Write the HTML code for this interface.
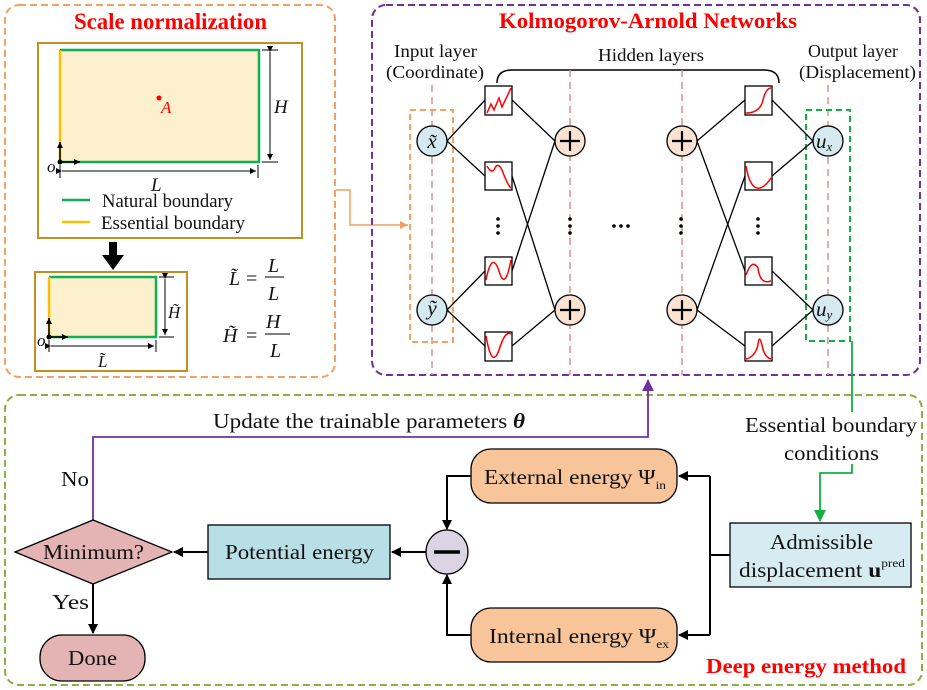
<!DOCTYPE html>
<html><head><meta charset="utf-8"><style>
html,body{margin:0;padding:0;background:#fff}
svg{display:block}
text{font-family:"Liberation Serif",serif;fill:#111}
.it{font-style:italic}
</style></head><body>
<svg width="927" height="690" viewBox="0 0 927 690" xmlns="http://www.w3.org/2000/svg">
<defs>
<marker id="ab" markerWidth="10" markerHeight="10" refX="9" refY="5" orient="auto" markerUnits="userSpaceOnUse"><path d="M0,0 L10,5 L0,10 z" fill="#000"/></marker>
<marker id="as" markerWidth="6" markerHeight="6" refX="6" refY="3" orient="auto" markerUnits="userSpaceOnUse"><path d="M0,0 L6,3 L0,6 z" fill="#000"/></marker>
<marker id="ao" markerWidth="8" markerHeight="8" refX="8" refY="4" orient="auto" markerUnits="userSpaceOnUse"><path d="M0,0 L8,4 L0,8 z" fill="#f0a060"/></marker>
<marker id="ag" markerWidth="12" markerHeight="12" refX="11" refY="6" orient="auto" markerUnits="userSpaceOnUse"><path d="M0,0 L12,6 L0,12 z" fill="#10b040"/></marker>
<marker id="ap" markerWidth="12" markerHeight="12" refX="11" refY="6" orient="auto" markerUnits="userSpaceOnUse"><path d="M0,0 L12,6 L0,12 z" fill="#7030a0"/></marker>
</defs>

<!-- Scale normalization panel -->
<rect x="5" y="5" width="330" height="372" rx="14" fill="none" stroke="#f4a262" stroke-width="2" stroke-dasharray="7,4"/>
<text x="74" y="29" font-size="23" font-weight="bold" textLength="193" lengthAdjust="spacingAndGlyphs" style="fill:#f00">Scale normalization</text>
<rect x="38" y="43" width="264" height="195" fill="#fff" stroke="#c09020" stroke-width="2"/>
<rect x="60" y="50" width="199" height="112" fill="#fdf0cc"/>
<polyline points="60,50 259,50 259,162 60,162" fill="none" stroke="#10b050" stroke-width="2.5"/>
<line x1="60" y1="50" x2="60" y2="162" stroke="#f8c000" stroke-width="2.5"/>
<line x1="60" y1="162" x2="60" y2="142" stroke="#000" stroke-width="1.5" marker-end="url(#as)"/>
<line x1="60" y1="162" x2="80" y2="162" stroke="#000" stroke-width="1.5" marker-end="url(#as)"/>
<circle cx="60" cy="162" r="2.5" fill="#000"/>
<text x="47" y="172" font-size="17" class="it">o</text>
<line x1="262" y1="50" x2="278" y2="50" stroke="#000"/><line x1="262" y1="162" x2="278" y2="162" stroke="#000"/>
<line x1="270" y1="52" x2="270" y2="160" stroke="#000" marker-start="url(#as)" marker-end="url(#as)"/>
<text x="274" y="113" font-size="19" class="it">H</text>
<line x1="60" y1="165" x2="60" y2="178" stroke="#000"/><line x1="258" y1="165" x2="258" y2="178" stroke="#000"/>
<line x1="62" y1="171" x2="256" y2="171" stroke="#000" marker-start="url(#as)" marker-end="url(#as)"/>
<text x="151" y="191" font-size="19" class="it">L</text>
<circle cx="159" cy="98" r="2.5" fill="#f00"/>
<text x="161" y="113" font-size="17" class="it" style="fill:#f00">A</text>
<line x1="62" y1="200" x2="90" y2="200" stroke="#10b050" stroke-width="2.5"/>
<text x="102" y="207" font-size="19" textLength="131" lengthAdjust="spacingAndGlyphs">Natural boundary</text>
<line x1="62" y1="222" x2="90" y2="222" stroke="#f8c000" stroke-width="2.5"/>
<text x="101" y="229" font-size="19" textLength="144" lengthAdjust="spacingAndGlyphs">Essential boundary</text>
<rect x="109" y="242" width="8" height="14" fill="#000"/>
<path d="M102,255 L124,255 L113,270 z" fill="#000"/>
<rect x="35" y="272" width="152" height="99" fill="#fff" stroke="#c09020" stroke-width="2"/>
<rect x="49" y="277" width="107" height="60" fill="#fdf0cc"/>
<polyline points="49,277 156,277 156,337 49,337" fill="none" stroke="#10b050" stroke-width="2.5"/>
<line x1="49" y1="277" x2="49" y2="337" stroke="#f8c000" stroke-width="2.5"/>
<line x1="49" y1="337" x2="49" y2="318" stroke="#000" stroke-width="1.5" marker-end="url(#as)"/>
<line x1="49" y1="337" x2="68" y2="337" stroke="#000" stroke-width="1.5" marker-end="url(#as)"/>
<circle cx="49" cy="337" r="2.5" fill="#000"/>
<text x="37" y="346" font-size="17" class="it">o</text>
<line x1="159" y1="277" x2="174" y2="277" stroke="#000"/><line x1="159" y1="337" x2="174" y2="337" stroke="#000"/>
<line x1="165" y1="279" x2="165" y2="335" stroke="#000" marker-start="url(#as)" marker-end="url(#as)"/>
<text x="168" y="318" font-size="17" class="it">H̃</text>
<line x1="49" y1="340" x2="49" y2="352" stroke="#000"/><line x1="156" y1="340" x2="156" y2="352" stroke="#000"/>
<line x1="51" y1="346" x2="154" y2="346" stroke="#000" marker-start="url(#as)" marker-end="url(#as)"/>
<text x="98" y="367" font-size="17" class="it">L̃</text>
<text x="229" y="285" font-size="20" class="it">L̃</text>
<text x="246" y="285" font-size="20">=</text>
<text x="268" y="272" font-size="20" class="it">L</text>
<line x1="265" y1="277" x2="284" y2="277" stroke="#000"/>
<text x="268" y="300" font-size="20" class="it">L</text>
<text x="223" y="342" font-size="20" class="it">H̃</text>
<text x="246" y="342" font-size="20">=</text>
<text x="266" y="328" font-size="20" class="it">H</text>
<line x1="265" y1="334" x2="290" y2="334" stroke="#000"/>
<text x="270" y="357" font-size="20" class="it">L</text>

<!-- orange connector -->
<polyline points="336,190 350,190 350,225 408,225" fill="none" stroke="#f0a060" stroke-width="1.5" marker-end="url(#ao)"/>

<!-- KAN panel -->
<rect x="372" y="5" width="548" height="370" rx="14" fill="none" stroke="#7030a0" stroke-width="2" stroke-dasharray="7,4"/>
<text x="499" y="28" font-size="22" font-weight="bold" textLength="298" lengthAdjust="spacingAndGlyphs" style="fill:#f00">Kolmogorov-Arnold Networks</text>
<text x="394" y="57" font-size="18" textLength="83" lengthAdjust="spacingAndGlyphs">Input layer</text>
<text x="386" y="78" font-size="18" textLength="98" lengthAdjust="spacingAndGlyphs">(Coordinate)</text>
<text x="598" y="61" font-size="18" textLength="106" lengthAdjust="spacingAndGlyphs">Hidden layers</text>
<text x="808" y="57" font-size="18" textLength="90" lengthAdjust="spacingAndGlyphs">Output layer</text>
<text x="799" y="78" font-size="18" textLength="117" lengthAdjust="spacingAndGlyphs">(Displacement)</text>
<path d="M497,83 Q497,70 512,70 L764,70 Q779,70 779,83" fill="none" stroke="#000" stroke-width="1.5"/>
<g stroke="#d89090" stroke-width="1.5" stroke-dasharray="7,5">
<line x1="432" y1="85" x2="432" y2="375"/><line x1="570" y1="70" x2="570" y2="375"/>
<line x1="682" y1="70" x2="682" y2="375"/><line x1="828" y1="85" x2="828" y2="375"/>
</g>
<rect x="410" y="110" width="43" height="232" fill="none" stroke="#f4a262" stroke-width="2" stroke-dasharray="6,4"/>
<rect x="806" y="110" width="44" height="231" fill="none" stroke="#10b040" stroke-width="2" stroke-dasharray="6,4"/>
<g stroke="#000" stroke-width="1.3">
<line x1="447" y1="141" x2="485" y2="100"/><line x1="447" y1="141" x2="485" y2="176"/>
<line x1="447" y1="310" x2="485" y2="271"/><line x1="447" y1="310" x2="485" y2="346"/>
<line x1="512" y1="100" x2="555" y2="141"/><line x1="512" y1="176" x2="555" y2="310"/>
<line x1="512" y1="271" x2="555" y2="141"/><line x1="512" y1="346" x2="555" y2="310"/>
<line x1="697" y1="141" x2="745" y2="100"/><line x1="697" y1="141" x2="745" y2="271"/>
<line x1="697" y1="310" x2="745" y2="176"/><line x1="697" y1="310" x2="745" y2="346"/>
<line x1="772" y1="100" x2="813" y2="141"/><line x1="772" y1="176" x2="813" y2="141"/>
<line x1="772" y1="271" x2="813" y2="310"/><line x1="772" y1="346" x2="813" y2="310"/>
</g>
<g fill="#fff" stroke="#000" stroke-width="1.3">
<rect x="485" y="86" width="27" height="29"/><rect x="485" y="162" width="27" height="28"/>
<rect x="485" y="257" width="27" height="28"/><rect x="485" y="332" width="27" height="29"/>
<rect x="745" y="86" width="27" height="29"/><rect x="745" y="162" width="27" height="28"/>
<rect x="745" y="257" width="27" height="28"/><rect x="745" y="332" width="27" height="29"/>
</g>
<g fill="none" stroke="#f00" stroke-width="1.5">
<path d="M487,113 L491,104 L494,110 L499,98 L502,107 L511,88"/>
<path d="M487,166 Q492,175 495,168 Q498,162 502,170 Q508,186 511,188"/>
<path d="M486,280 Q492,250 499,271 Q505,292 511,260"/>
<path d="M486,336 Q492,370 499,350 Q505,330 511,334"/>
<path d="M746,113 Q760,113 763,100 Q766,88 771,88"/>
<path d="M746,166 Q750,190 760,188 Q766,186 771,178"/>
<path d="M746,275 Q752,258 758,268 Q760,285 771,281"/>
<path d="M746,359 Q755,357 758,345 Q759,333 762,345 Q764,357 771,359"/>
</g>
<g fill="#000">
<circle cx="498" cy="219" r="1.8"/><circle cx="498" cy="226" r="1.8"/><circle cx="498" cy="233" r="1.8"/>
<circle cx="570" cy="219" r="1.8"/><circle cx="570" cy="226" r="1.8"/><circle cx="570" cy="233" r="1.8"/>
<circle cx="681" cy="219" r="1.8"/><circle cx="681" cy="226" r="1.8"/><circle cx="681" cy="233" r="1.8"/>
<circle cx="758" cy="219" r="1.8"/><circle cx="758" cy="226" r="1.8"/><circle cx="758" cy="233" r="1.8"/>
<circle cx="614" cy="226" r="1.8"/><circle cx="621" cy="226" r="1.8"/><circle cx="628" cy="226" r="1.8"/>
</g>
<g stroke="#000" stroke-width="1.3">
<circle cx="432" cy="141" r="15" fill="#d5e9f0"/><circle cx="432" cy="310" r="15" fill="#d5e9f0"/>
<circle cx="828" cy="141" r="15" fill="#d5e9f0"/><circle cx="828" cy="310" r="15" fill="#d5e9f0"/>
<circle cx="570" cy="141" r="15" fill="#fbe3d2"/><circle cx="570" cy="310" r="15" fill="#fbe3d2"/>
<circle cx="682" cy="141" r="15" fill="#fbe3d2"/><circle cx="682" cy="310" r="15" fill="#fbe3d2"/>
</g>
<g stroke="#000" stroke-width="2.2">
<line x1="560" y1="141" x2="580" y2="141"/><line x1="570" y1="131" x2="570" y2="151"/>
<line x1="560" y1="310" x2="580" y2="310"/><line x1="570" y1="300" x2="570" y2="320"/>
<line x1="672" y1="141" x2="692" y2="141"/><line x1="682" y1="131" x2="682" y2="151"/>
<line x1="672" y1="310" x2="692" y2="310"/><line x1="682" y1="300" x2="682" y2="320"/>
</g>
<text x="432" y="148" text-anchor="middle" font-size="21" class="it">x̃</text>
<text x="432" y="315" text-anchor="middle" font-size="21" class="it">ỹ</text>
<text x="816" y="148" font-size="21" class="it">u<tspan font-size="13" dy="3">x</tspan></text>
<text x="816" y="316" font-size="21" class="it">u<tspan font-size="13" dy="3">y</tspan></text>

<!-- Deep energy panel -->
<rect x="5" y="395" width="917" height="290" rx="14" fill="none" stroke="#8cb040" stroke-width="2" stroke-dasharray="7,4"/>
<text x="706" y="673" font-size="21" font-weight="bold" textLength="200" lengthAdjust="spacingAndGlyphs" style="fill:#f00">Deep energy method</text>
<polyline points="93,520 93,437 648,437 648,380" fill="none" stroke="#7030a0" stroke-width="1.8" marker-end="url(#ap)"/>
<text x="213" y="428" font-size="21" textLength="312" lengthAdjust="spacingAndGlyphs">Update the trainable parameters <tspan font-style="italic" font-weight="bold">θ</tspan></text>
<text x="61" y="486" font-size="21" textLength="28" lengthAdjust="spacingAndGlyphs">No</text>
<line x1="852" y1="341" x2="852" y2="412" stroke="#10b040" stroke-width="1.8"/>
<text x="745" y="432" font-size="21" textLength="172" lengthAdjust="spacingAndGlyphs">Essential boundary</text>
<text x="784" y="460" font-size="21" textLength="95" lengthAdjust="spacingAndGlyphs">conditions</text>
<polyline points="852,464 852,473 820,473 820,521" fill="none" stroke="#10b040" stroke-width="1.8" marker-end="url(#ag)"/>

<g stroke="#000" stroke-width="2" fill="none">
<polyline points="730,555 710,555"/>
<polyline points="710,476 710,635"/>
<line x1="710" y1="476" x2="679" y2="476" marker-end="url(#ab)"/>
<line x1="710" y1="635" x2="679" y2="635" marker-end="url(#ab)"/>
<polyline points="471,476 447,476 447,529" marker-end="url(#ab)"/>
<polyline points="471,635 447,635 447,575" marker-end="url(#ab)"/>
<line x1="426" y1="552" x2="392" y2="552" marker-end="url(#ab)"/>
<line x1="208" y1="552" x2="174" y2="552" marker-end="url(#ab)"/>
<line x1="93" y1="584" x2="93" y2="633" marker-end="url(#ab)"/>
</g>
<text x="52" y="609" font-size="21" textLength="37" lengthAdjust="spacingAndGlyphs">Yes</text>

<rect x="471" y="449" width="206" height="54" rx="20" fill="#f8c49a" stroke="#000" stroke-width="1.3"/>
<text x="484" y="484" font-size="21" textLength="182" lengthAdjust="spacingAndGlyphs">External energy Ψ<tspan font-size="12" dy="5">in</tspan></text>
<rect x="471" y="608" width="206" height="54" rx="20" fill="#f8c49a" stroke="#000" stroke-width="1.3"/>
<text x="489" y="643" font-size="21" textLength="180" lengthAdjust="spacingAndGlyphs">Internal energy Ψ<tspan font-size="12" dy="5">ex</tspan></text>
<rect x="208" y="525" width="182" height="54" fill="#b8dfe6" stroke="#000" stroke-width="1.3"/>
<text x="225" y="559" font-size="21" textLength="149" lengthAdjust="spacingAndGlyphs">Potential energy</text>
<ellipse cx="447" cy="552" rx="21" ry="22" fill="#dcd4e4" stroke="#000" stroke-width="1.3"/>
<line x1="434" y1="552" x2="460" y2="552" stroke="#000" stroke-width="3.5"/>
<path d="M15,552 L93,520 L172,552 L93,584 z" fill="#e4b4b4" stroke="#000" stroke-width="1.3"/>
<text x="43" y="559" font-size="21" textLength="101" lengthAdjust="spacingAndGlyphs">Minimum?</text>
<rect x="40" y="635" width="105" height="46" rx="22" fill="#e4b4b4" stroke="#000" stroke-width="1.3"/>
<text x="68" y="665" font-size="21" textLength="49" lengthAdjust="spacingAndGlyphs">Done</text>
<rect x="730" y="523" width="181" height="64" fill="#d7ecf2" stroke="#000" stroke-width="1.3"/>
<text x="770" y="549" font-size="21" textLength="103" lengthAdjust="spacingAndGlyphs">Admissible</text>
<text x="739" y="577" font-size="21" textLength="166" lengthAdjust="spacingAndGlyphs">displacement <tspan font-weight="bold">u</tspan><tspan font-size="12" dy="-10">pred</tspan></text>
</svg>
</body></html>
